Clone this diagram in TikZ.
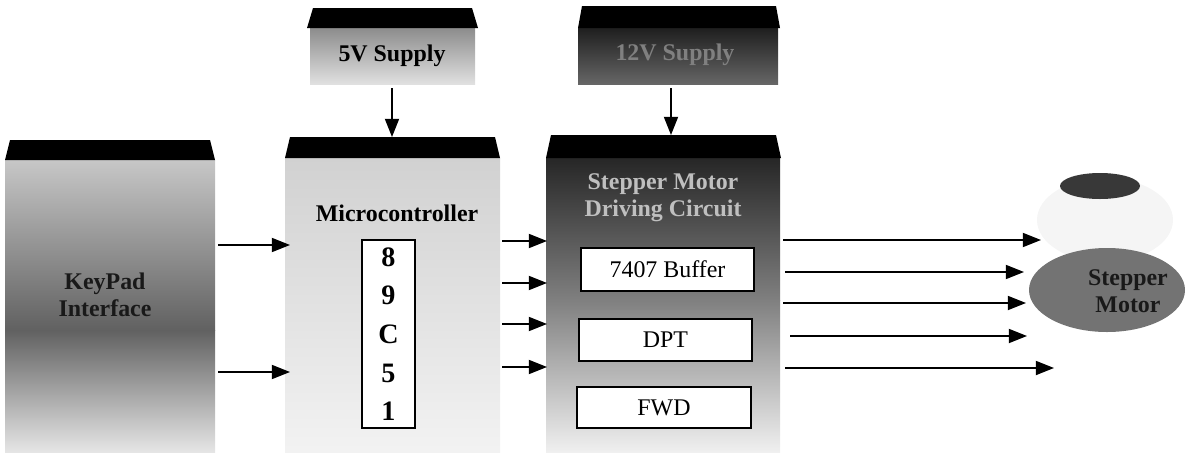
\documentclass[tikz,border=0pt]{standalone}
\usepackage{fontspec}
\setmainfont{Liberation Serif}
\usetikzlibrary{arrows.meta,shapes.geometric}
\tikzset{
  px/.style={x=0.025cm,y=-0.025cm},
  arr/.style={line width=1pt,-{Triangle[length=18pt*0.72,width=14pt*0.72]}},
  topbar/.style={fill=black,draw=none},
  whitebox/.style={draw=black,line width=0.9pt,fill=white,font=\fontsize{17}{19}\selectfont},
  lbl/.style={font=\bfseries\fontsize{17}{19}\selectfont},
}
\begin{document}
\begin{tikzpicture}[px]
\useasboundingbox (0,0) rectangle (1192,456);
% ---------- 5V supply
\shade[top color=black!45,bottom color=black!12] (310,28) rectangle (475,84);
\fill[topbar] (313,8) -- (472,8) -- (478,28) -- (307,28) -- cycle;
\node[lbl,text=black] (s5) at (392,56) {5V Supply};
\coordinate (s5b) at (392,88);
% ---------- 12V supply
\shade[top color=black!88,bottom color=black!60] (578,28) rectangle (778,84);
\fill[topbar] (582,6) -- (776,6) -- (780,28) -- (578,28) -- cycle;
\node[lbl,text=black!50] (s12) at (675,55) {12V Supply};
\coordinate (s12b) at (671,88);
% ---------- Keypad
\shade[top color=black!22,bottom color=black!62] (5,160) rectangle (215,330);
\shade[top color=black!62,bottom color=black!10] (5,330) rectangle (215,452);
\fill[topbar] (10,140) -- (210,140) -- (215,160) -- (5,160) -- cycle;
\node[lbl,text=black!90,align=center] (kp) at (105,295) {KeyPad\\Interface};
\coordinate (kp1) at (218,245);
\coordinate (kp2) at (218,372);
% ---------- Microcontroller
\shade[top color=black!18,bottom color=black!5] (285,158) rectangle (500,452);
\fill[topbar] (290,137) -- (495,137) -- (500,158) -- (285,158) -- cycle;
\node[lbl] (mct) at (397,213) {Microcontroller};
\node[whitebox,minimum width=53*0.025cm,minimum height=188*0.025cm,align=center,
      font=\fontsize{20}{27.5}\selectfont\bfseries] (chip) at (388.5,334) {8\\9\\C\\5\\1};
\coordinate (mc1) at (290,245);
\coordinate (mc2) at (290,372);
% ---------- Driver
\shade[top color=black!85,bottom color=black!50] (546,158) rectangle (780,300);
\shade[top color=black!50,bottom color=black!6] (546,300) rectangle (780,452);
\fill[topbar] (551,135) -- (776,135) -- (781,158) -- (546,158) -- cycle;
\node[lbl,text=black!25,align=center] (drv) at (663,198) {Stepper Motor\\Driving Circuit};
\node[whitebox,minimum width=173*0.025cm,minimum height=43*0.025cm] (buf) at (667.5,269.5) {7407 Buffer};
\node[whitebox,minimum width=173*0.025cm,minimum height=42*0.025cm] (dpt) at (665.5,340) {DPT};
\node[whitebox,minimum width=174*0.025cm,minimum height=41*0.025cm] (fwd) at (664,407.5) {FWD};
% ---------- Motor
\fill[black!4] (1105,220) ellipse (68 and 42);
\fill[black!78] (1100,186) ellipse (40 and 13);
\fill[black!55] (1107,290) ellipse (78 and 42);
\node[lbl,text=black!90,align=center] (mot) at (1128,291) {Stepper\\Motor};
% ---------- arrows
\draw[arr] (s5b) -- (392,137);
\draw[arr] (s12b) -- (671,135);
\draw[arr] (kp1) -- (mc1);
\draw[arr] (kp2) -- (mc2);
\coordinate (m1) at (502,241); \coordinate (d1) at (547,241);
\coordinate (m2) at (502,283); \coordinate (d2) at (547,283);
\coordinate (m3) at (502,324); \coordinate (d3) at (547,324);
\coordinate (m4) at (502,367); \coordinate (d4) at (547,367);
\draw[arr] (m1) -- (d1);
\draw[arr] (m2) -- (d2);
\draw[arr] (m3) -- (d3);
\draw[arr] (m4) -- (d4);
\coordinate (o1) at (783,240); \coordinate (t1) at (1041,240);
\coordinate (o2) at (785,272); \coordinate (t2) at (1024,272);
\coordinate (o3) at (783,303); \coordinate (t3) at (1026,303);
\coordinate (o4) at (790,336); \coordinate (t4) at (1027,336);
\coordinate (o5) at (785,368); \coordinate (t5) at (1054,368);
\draw[arr] (o1) -- (t1);
\draw[arr] (o2) -- (t2);
\draw[arr] (o3) -- (t3);
\draw[arr] (o4) -- (t4);
\draw[arr] (o5) -- (t5);
\end{tikzpicture}
\end{document}
